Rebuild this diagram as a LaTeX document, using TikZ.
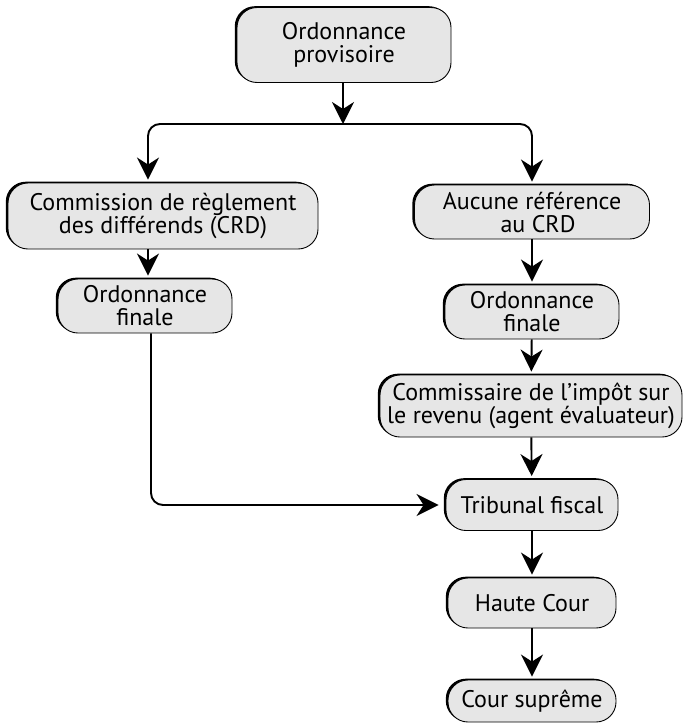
\documentclass[tikz,border=0pt]{standalone}
\usepackage{fontspec}
\setmainfont{PT Sans}
\usetikzlibrary{arrows.meta,shadows}
\definecolor{boxgray}{HTML}{E6E6E6}
\begin{document}
\begin{tikzpicture}[x=1pt,y=-1pt,
  box/.style={draw=black, line width=0.9pt, fill=boxgray, rounded corners=20pt,
    align=center, inner sep=0pt, font=\fontsize{24}{23}\selectfont,
    drop shadow={shadow xshift=-2.2pt, shadow yshift=1.3pt, opacity=1, fill=black}},
  flow/.style={line width=1.9pt, -{Stealth[length=22pt,width=22pt,inset=7pt]},
    rounded corners=12pt, shorten >=3pt}]
\useasboundingbox (0,0) rectangle (683,726);

% boxes
\node[box, minimum width=214pt, minimum height=75pt] (prov) at (344,45) {Ordonnance\\provisoire};
\node[box, minimum width=310pt, minimum height=66pt] (crd) at (163,216) {Commission de règlement\\des différends (CRD)};
\node[box, minimum width=235pt, minimum height=54pt] (auc) at (532,212) {Aucune référence\\\hspace*{12pt}au CRD};
\node[box, minimum width=174pt, minimum height=54pt] (ofl) at (145,306) {Ordonnance\\finale};
\node[box, minimum width=174pt, minimum height=54pt] (ofr) at (532,312) {Ordonnance\\finale};
\node[box, minimum width=302pt, minimum height=62pt] (comm) at (531,406) {Commissaire de l’impôt sur\\le revenu (agent évaluateur)};
\node[box, minimum width=172pt, minimum height=51pt] (trib) at (532,505) {Tribunal fiscal};
\node[box, minimum width=168pt, minimum height=50pt] (haute) at (532,603) {Haute Cour};
\node[box, minimum width=168pt, minimum height=42pt] (cour) at (532,701) {Cour suprême};

% connectors
\coordinate (split) at (343,124);
\draw[flow, shorten >=0pt] (prov.south -| split) -- (split);
\draw[flow] (split) -| ([xshift=-15pt]crd.north);
\draw[flow] (split) -| (auc.north);
\draw[flow] ([xshift=-15pt]crd.south) -- ([xshift=3pt]ofl.north);
\draw[flow] ([xshift=6pt]ofl.south) |- ([xshift=-4pt]trib.west);
\draw[flow] (auc) -- (ofr);
\draw[flow] (ofr) -- (comm);
\draw[flow] (comm) -- (trib);
\draw[flow] (trib) -- (haute);
\draw[flow] (haute) -- (cour);
\end{tikzpicture}
\end{document}
